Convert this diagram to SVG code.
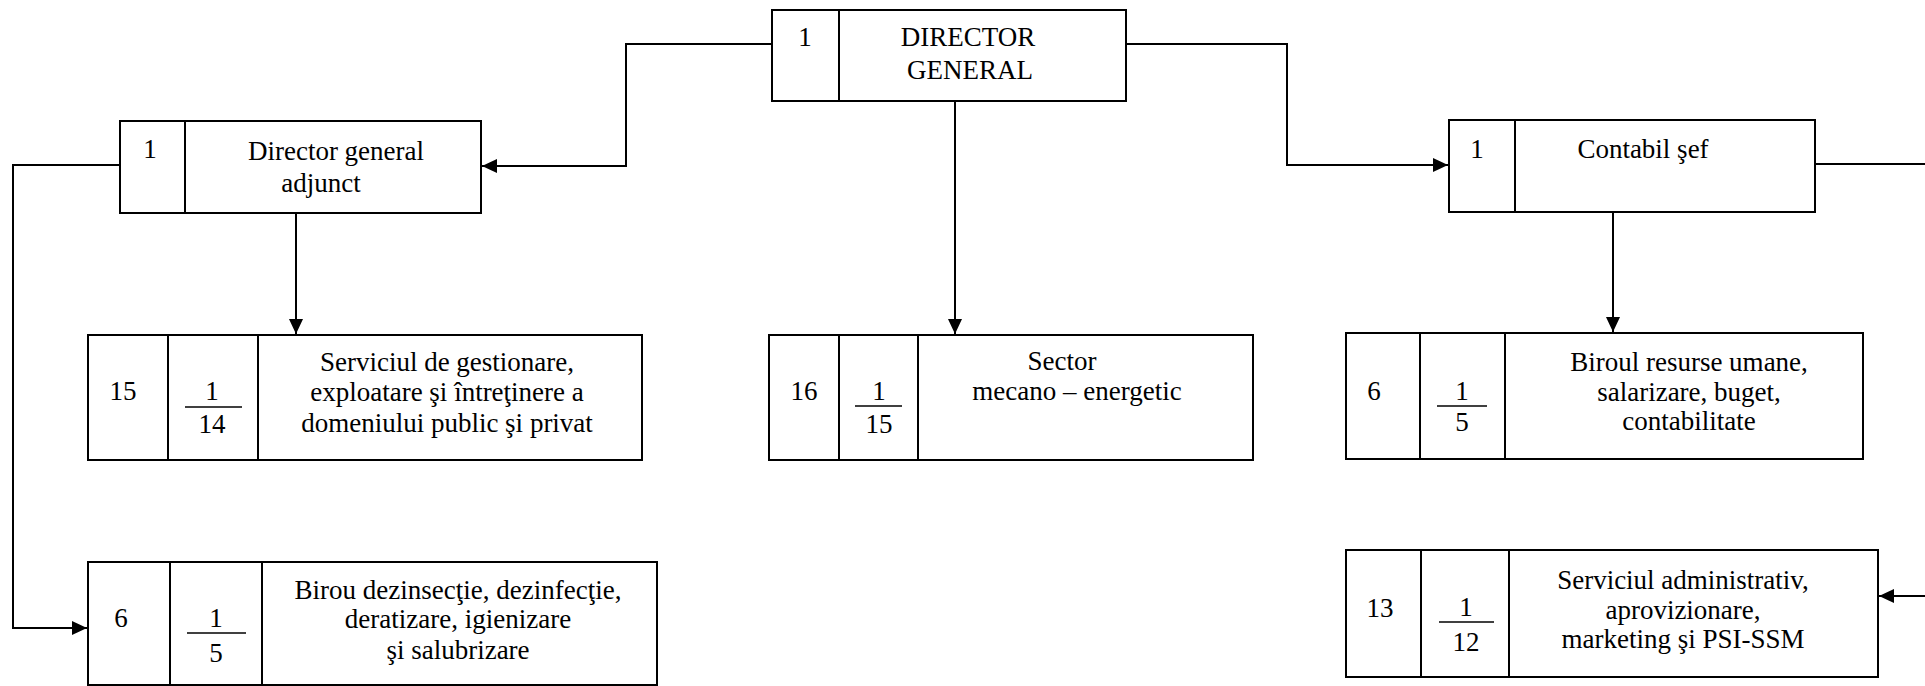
<svg xmlns="http://www.w3.org/2000/svg" width="1925" height="686" viewBox="0 0 1925 686">
<style>
.box{fill:#fff;stroke:#000;stroke-width:2}
.div{stroke:#000;stroke-width:2}
.frac{stroke:#000;stroke-width:1.5}
.c{fill:none;stroke:#000;stroke-width:2}
</style>
<defs>
<marker id="arr" markerUnits="userSpaceOnUse" markerWidth="16" markerHeight="14" refX="15" refY="7" orient="auto">
<path d="M0,0 L15,7 L0,14 Z" fill="#000"/>
</marker>
</defs>
<rect width="1925" height="686" fill="#fff"/>
<g id="connectors">
<path class="c" d="M772,44 H626 V166 H482" marker-end="url(#arr)"/>
<path class="c" d="M955,101 V334" marker-end="url(#arr)"/>
<path class="c" d="M1126,44 H1287 V165 H1448" marker-end="url(#arr)"/>
<path class="c" d="M296,213 V334" marker-end="url(#arr)"/>
<path class="c" d="M120,165 H13 V628 H87" marker-end="url(#arr)"/>
<path class="c" d="M1613,212 V332" marker-end="url(#arr)"/>
<path class="c" d="M1815,164 H1940 V596 H1879" marker-end="url(#arr)"/>
</g>
<g id="director-general">
<rect class="box" x="772" y="10" width="354" height="91"/>
<line class="div" x1="839" y1="10" x2="839" y2="101"/>
<text font-family="Liberation Serif" font-size="27" text-anchor="middle" x="805" y="46">1</text>
<text font-family="Liberation Serif" font-size="27" text-anchor="middle" x="968" y="46">DIRECTOR</text>
<text font-family="Liberation Serif" font-size="27" text-anchor="middle" x="970" y="79">GENERAL</text>
</g>
<g id="director-general-adjunct">
<rect class="box" x="120" y="121" width="361" height="92"/>
<line class="div" x1="185" y1="121" x2="185" y2="213"/>
<text font-family="Liberation Serif" font-size="27" text-anchor="middle" x="150" y="158">1</text>
<text font-family="Liberation Serif" font-size="27" text-anchor="middle" x="336" y="160">Director general</text>
<text font-family="Liberation Serif" font-size="27" text-anchor="middle" x="321" y="192">adjunct</text>
</g>
<g id="contabil-sef">
<rect class="box" x="1449" y="120" width="366" height="92"/>
<line class="div" x1="1515" y1="120" x2="1515" y2="212"/>
<text font-family="Liberation Serif" font-size="27" text-anchor="middle" x="1477" y="158">1</text>
<text font-family="Liberation Serif" font-size="27" text-anchor="middle" x="1643" y="158">Contabil şef</text>
</g>
<g id="serviciul-gestionare">
<rect class="box" x="88" y="335" width="554" height="125"/>
<line class="div" x1="168" y1="335" x2="168" y2="460"/>
<line class="div" x1="258" y1="335" x2="258" y2="460"/>
<text font-family="Liberation Serif" font-size="27" text-anchor="middle" x="123" y="400">15</text>
<text font-family="Liberation Serif" font-size="27" text-anchor="middle" x="212" y="400">1</text>
<line class="frac" x1="185" y1="407" x2="242" y2="407"/>
<text font-family="Liberation Serif" font-size="27" text-anchor="middle" x="212" y="433">14</text>
<text font-family="Liberation Serif" font-size="27" text-anchor="middle" x="447" y="371">Serviciul de gestionare,</text>
<text font-family="Liberation Serif" font-size="27" text-anchor="middle" x="447" y="401">exploatare şi întreţinere a</text>
<text font-family="Liberation Serif" font-size="27" text-anchor="middle" x="447" y="432">domeniului public şi privat</text>
</g>
<g id="sector-mecano-energetic">
<rect class="box" x="769" y="335" width="484" height="125"/>
<line class="div" x1="839" y1="335" x2="839" y2="460"/>
<line class="div" x1="918" y1="335" x2="918" y2="460"/>
<text font-family="Liberation Serif" font-size="27" text-anchor="middle" x="804" y="400">16</text>
<text font-family="Liberation Serif" font-size="27" text-anchor="middle" x="879" y="400">1</text>
<line class="frac" x1="855" y1="406" x2="902" y2="406"/>
<text font-family="Liberation Serif" font-size="27" text-anchor="middle" x="879" y="433">15</text>
<text font-family="Liberation Serif" font-size="27" text-anchor="middle" x="1062" y="370">Sector</text>
<text font-family="Liberation Serif" font-size="27" text-anchor="middle" x="1077" y="400">mecano – energetic</text>
</g>
<g id="biroul-resurse-umane">
<rect class="box" x="1346" y="333" width="517" height="126"/>
<line class="div" x1="1420" y1="333" x2="1420" y2="459"/>
<line class="div" x1="1505" y1="333" x2="1505" y2="459"/>
<text font-family="Liberation Serif" font-size="27" text-anchor="middle" x="1374" y="400">6</text>
<text font-family="Liberation Serif" font-size="27" text-anchor="middle" x="1462" y="400">1</text>
<line class="frac" x1="1437" y1="406" x2="1487" y2="406"/>
<text font-family="Liberation Serif" font-size="27" text-anchor="middle" x="1462" y="431">5</text>
<text font-family="Liberation Serif" font-size="27" text-anchor="middle" x="1689" y="371">Biroul resurse umane,</text>
<text font-family="Liberation Serif" font-size="27" text-anchor="middle" x="1689" y="401">salarizare, buget,</text>
<text font-family="Liberation Serif" font-size="27" text-anchor="middle" x="1689" y="430">contabilitate</text>
</g>
<g id="birou-dezinsectie">
<rect class="box" x="88" y="562" width="569" height="123"/>
<line class="div" x1="170" y1="562" x2="170" y2="685"/>
<line class="div" x1="262" y1="562" x2="262" y2="685"/>
<text font-family="Liberation Serif" font-size="27" text-anchor="middle" x="121" y="627">6</text>
<text font-family="Liberation Serif" font-size="27" text-anchor="middle" x="216" y="627">1</text>
<line class="frac" x1="187" y1="633" x2="246" y2="633"/>
<text font-family="Liberation Serif" font-size="27" text-anchor="middle" x="216" y="662">5</text>
<text font-family="Liberation Serif" font-size="27" text-anchor="middle" x="458" y="599">Birou dezinsecţie, dezinfecţie,</text>
<text font-family="Liberation Serif" font-size="27" text-anchor="middle" x="458" y="628">deratizare, igienizare</text>
<text font-family="Liberation Serif" font-size="27" text-anchor="middle" x="458" y="659">şi salubrizare</text>
</g>
<g id="serviciul-administrativ">
<rect class="box" x="1346" y="550" width="532" height="127"/>
<line class="div" x1="1421" y1="550" x2="1421" y2="677"/>
<line class="div" x1="1509" y1="550" x2="1509" y2="677"/>
<text font-family="Liberation Serif" font-size="27" text-anchor="middle" x="1380" y="617">13</text>
<text font-family="Liberation Serif" font-size="27" text-anchor="middle" x="1466" y="616">1</text>
<line class="frac" x1="1439" y1="622" x2="1494" y2="622"/>
<text font-family="Liberation Serif" font-size="27" text-anchor="middle" x="1466" y="651">12</text>
<text font-family="Liberation Serif" font-size="27" text-anchor="middle" x="1683" y="589">Serviciul administrativ,</text>
<text font-family="Liberation Serif" font-size="27" text-anchor="middle" x="1683" y="619">aprovizionare,</text>
<text font-family="Liberation Serif" font-size="27" text-anchor="middle" x="1683" y="648">marketing şi PSI-SSM</text>
</g>
</svg>
